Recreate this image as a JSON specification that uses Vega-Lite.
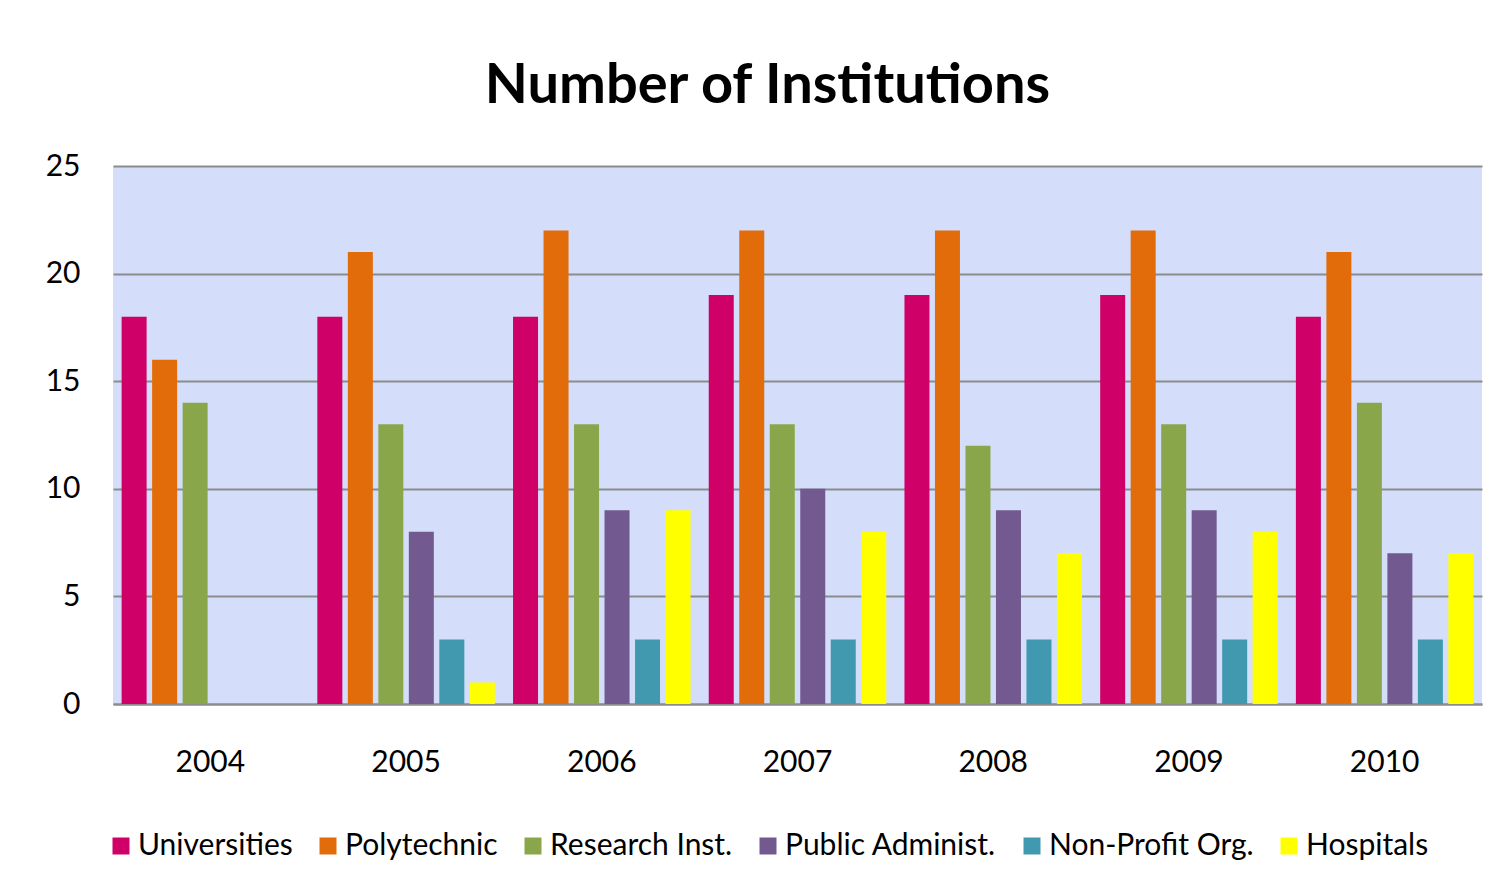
{
  "$schema": "https://vega.github.io/schema/vega-lite/v6.json",
  "autosize": "none",
  "width": 1369,
  "height": 538,
  "padding": {"left": 113, "top": 166, "right": 22, "bottom": 166},
  "background": "white",
  "title": {
    "text": "Number of Institutions",
    "font": "Lato",
    "fontSize": 56,
    "fontWeight": "bold",
    "color": "black",
    "anchor": "middle",
    "frame": "group",
    "baseline": "alphabetic",
    "offset": 56,
    "dx": -30,
    "dy": 64
  },
  "data": {
    "values": [
      {"year": "2004", "type": "Universities", "count": 18},
      {"year": "2004", "type": "Polytechnic", "count": 16},
      {"year": "2004", "type": "Research Inst.", "count": 14},
      {"year": "2004", "type": "Public Administ.", "count": 0},
      {"year": "2004", "type": "Non-Profit Org.", "count": 0},
      {"year": "2004", "type": "Hospitals", "count": 0},
      {"year": "2005", "type": "Universities", "count": 18},
      {"year": "2005", "type": "Polytechnic", "count": 21},
      {"year": "2005", "type": "Research Inst.", "count": 13},
      {"year": "2005", "type": "Public Administ.", "count": 8},
      {"year": "2005", "type": "Non-Profit Org.", "count": 3},
      {"year": "2005", "type": "Hospitals", "count": 1},
      {"year": "2006", "type": "Universities", "count": 18},
      {"year": "2006", "type": "Polytechnic", "count": 22},
      {"year": "2006", "type": "Research Inst.", "count": 13},
      {"year": "2006", "type": "Public Administ.", "count": 9},
      {"year": "2006", "type": "Non-Profit Org.", "count": 3},
      {"year": "2006", "type": "Hospitals", "count": 9},
      {"year": "2007", "type": "Universities", "count": 19},
      {"year": "2007", "type": "Polytechnic", "count": 22},
      {"year": "2007", "type": "Research Inst.", "count": 13},
      {"year": "2007", "type": "Public Administ.", "count": 10},
      {"year": "2007", "type": "Non-Profit Org.", "count": 3},
      {"year": "2007", "type": "Hospitals", "count": 8},
      {"year": "2008", "type": "Universities", "count": 19},
      {"year": "2008", "type": "Polytechnic", "count": 22},
      {"year": "2008", "type": "Research Inst.", "count": 12},
      {"year": "2008", "type": "Public Administ.", "count": 9},
      {"year": "2008", "type": "Non-Profit Org.", "count": 3},
      {"year": "2008", "type": "Hospitals", "count": 7},
      {"year": "2009", "type": "Universities", "count": 19},
      {"year": "2009", "type": "Polytechnic", "count": 22},
      {"year": "2009", "type": "Research Inst.", "count": 13},
      {"year": "2009", "type": "Public Administ.", "count": 9},
      {"year": "2009", "type": "Non-Profit Org.", "count": 3},
      {"year": "2009", "type": "Hospitals", "count": 8},
      {"year": "2010", "type": "Universities", "count": 18},
      {"year": "2010", "type": "Polytechnic", "count": 21},
      {"year": "2010", "type": "Research Inst.", "count": 14},
      {"year": "2010", "type": "Public Administ.", "count": 7},
      {"year": "2010", "type": "Non-Profit Org.", "count": 3},
      {"year": "2010", "type": "Hospitals", "count": 7}
    ]
  },
  "mark": {"type": "bar"},
  "encoding": {
    "x": {
      "field": "year",
      "type": "nominal",
      "scale": {"paddingInner": 0.065, "paddingOuter": 0.03},
      "axis": {
        "title": null,
        "labelAngle": 0,
        "labelFont": "Lato",
        "labelFontSize": 30,
        "labelColor": "black",
        "labelPadding": 43,
        "ticks": false,
        "domain": true,
        "domainColor": "#8c8c8c",
        "domainWidth": 2,
        "grid": false
      }
    },
    "xOffset": {
      "field": "type",
      "type": "nominal",
      "sort": ["Universities", "Polytechnic", "Research Inst.", "Public Administ.", "Non-Profit Org.", "Hospitals"],
      "scale": {"paddingInner": 0.18, "paddingOuter": 0.09}
    },
    "y": {
      "field": "count",
      "type": "quantitative",
      "scale": {"domain": [0, 25]},
      "axis": {
        "title": null,
        "values": [0, 5, 10, 15, 20, 25],
        "labelFont": "Lato",
        "labelFontSize": 30,
        "labelColor": "black",
        "labelPadding": 33,
        "ticks": false,
        "domain": false,
        "grid": true,
        "gridColor": "#8c8c8c",
        "gridWidth": 2
      }
    },
    "color": {
      "field": "type",
      "type": "nominal",
      "sort": ["Universities", "Polytechnic", "Research Inst.", "Public Administ.", "Non-Profit Org.", "Hospitals"],
      "scale": {
        "domain": ["Universities", "Polytechnic", "Research Inst.", "Public Administ.", "Non-Profit Org.", "Hospitals"],
        "range": ["#cf0068", "#e36c0a", "#8aa64a", "#72598f", "#4199b0", "#ffff00"]
      },
      "legend": {
        "title": null,
        "orient": "none",
        "direction": "horizontal",
        "legendX": -7,
        "legendY": 665,
        "padding": 0,
        "symbolType": "square",
        "symbolSize": 289,
        "symbolStrokeWidth": 0,
        "labelFont": "Lato",
        "labelFontSize": 30,
        "labelColor": "black",
        "labelOffset": 2,
        "columnPadding": 20,
        "labelLimit": 400
      }
    }
  },
  "config": {
    "view": {"fill": "#d4defa", "stroke": null}
  }
}
